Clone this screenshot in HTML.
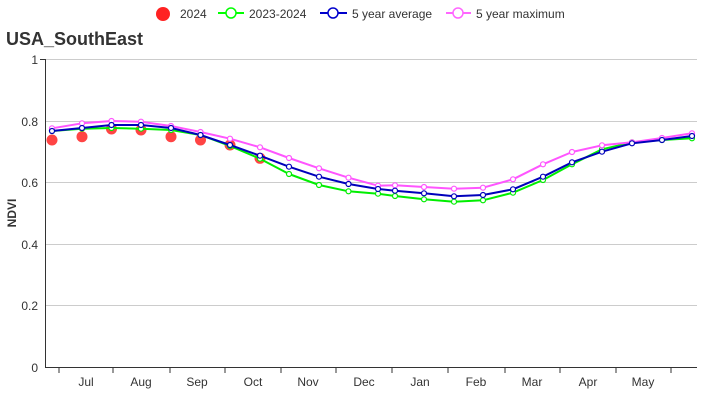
<!DOCTYPE html>
<html><head><meta charset="utf-8"><style>
body{margin:0;background:#fff;}
svg{display:block;font-family:"Liberation Sans",Arial,sans-serif;}
</style></head><body>
<svg width="726" height="400" viewBox="0 0 726 400">
<!-- grid -->
<g stroke="#ccc" stroke-width="1">
<line x1="45" y1="59.5" x2="697" y2="59.5"/>
<line x1="45" y1="121.5" x2="697" y2="121.5"/>
<line x1="45" y1="182.5" x2="697" y2="182.5"/>
<line x1="45" y1="244.5" x2="697" y2="244.5"/>
<line x1="45" y1="305.5" x2="697" y2="305.5"/>
</g>
<g stroke="#333" stroke-width="1">
<line x1="45.5" y1="59" x2="45.5" y2="367"/>
<line x1="40" y1="59.5" x2="45" y2="59.5"/>
<line x1="45" y1="367.5" x2="697" y2="367.5"/>
<line x1="59" y1="367" x2="59" y2="373"/><line x1="113" y1="367" x2="113" y2="373"/>
<line x1="170" y1="367" x2="170" y2="373"/><line x1="225" y1="367" x2="225" y2="373"/>
<line x1="281" y1="367" x2="281" y2="373"/><line x1="336" y1="367" x2="336" y2="373"/>
<line x1="392" y1="367" x2="392" y2="373"/><line x1="448" y1="367" x2="448" y2="373"/>
<line x1="505" y1="367" x2="505" y2="373"/><line x1="560" y1="367" x2="560" y2="373"/>
<line x1="616" y1="367" x2="616" y2="373"/><line x1="671" y1="367" x2="671" y2="373"/>
</g>
<g font-size="12" fill="#333" text-anchor="end">
<text x="38" y="64">1</text><text x="38" y="126">0.8</text><text x="38" y="187">0.6</text>
<text x="38" y="249">0.4</text><text x="38" y="310">0.2</text><text x="38" y="372">0</text>
</g>
<g font-size="12" fill="#333" text-anchor="middle">
<text x="86" y="386">Jul</text><text x="141" y="386">Aug</text><text x="197" y="386">Sep</text>
<text x="253" y="386">Oct</text><text x="308" y="386">Nov</text><text x="364" y="386">Dec</text>
<text x="420" y="386">Jan</text><text x="476" y="386">Feb</text><text x="532" y="386">Mar</text>
<text x="588" y="386">Apr</text><text x="643" y="386">May</text>
</g>
<text transform="translate(16,213) rotate(-90)" font-size="12" font-weight="bold" fill="#333" text-anchor="middle">NDVI</text>
<text x="6" y="45" font-size="18" font-weight="bold" fill="#333">USA_SouthEast</text>
<!-- legend -->
<circle cx="163" cy="14" r="7" fill="#f22"/>
<text x="180" y="18" font-size="12" fill="#333">2024</text>
<line x1="218" y1="13" x2="244" y2="13" stroke="#0f0" stroke-width="2"/><circle cx="231" cy="13" r="5" fill="#fff" stroke="#0f0" stroke-width="1.5"/>
<text x="249" y="18" font-size="12" fill="#333">2023-2024</text>
<line x1="320" y1="13" x2="347" y2="13" stroke="#00c" stroke-width="2"/><circle cx="333" cy="13" r="5" fill="#fff" stroke="#00c" stroke-width="1.5"/>
<text x="352" y="18" font-size="12" fill="#333">5 year average</text>
<line x1="446" y1="13" x2="471" y2="13" stroke="#f6f" stroke-width="2"/><circle cx="458" cy="13" r="5" fill="#fff" stroke="#f6f" stroke-width="1.5"/>
<text x="476" y="18" font-size="12" fill="#333">5 year maximum</text>
<!-- red dots -->
<g fill="#f44">
<circle cx="52" cy="140" r="5.5"/><circle cx="82" cy="136.7" r="5.5"/><circle cx="111.5" cy="129" r="5.5"/>
<circle cx="141" cy="130" r="5.5"/><circle cx="171" cy="136.7" r="5.5"/><circle cx="200.5" cy="140" r="5.5"/>
<circle cx="230" cy="145" r="5.5"/><circle cx="260" cy="158.3" r="5.5"/>
</g>
<!-- series -->
<g fill="none" stroke-width="2" stroke-linejoin="round">
<polyline stroke="#0e0" points="52,131 82,128.7 111.5,128 141,128.7 171,130 200.5,135 230,146 260,158.7 289,174 319,185 348.5,191.3 378,193.7 395,196 424,199.3 454,201.7 483,200.3 513,192.7 543,180 572,164.3 602,149.3 632,142.3 662,140 692,138.3"/>
<polyline stroke="#f5f" points="52,128.3 82,123.3 111.5,121 141,121.7 171,126 200.5,132 230,138.7 260,147.3 289,158 319,168.3 348.5,177.7 378,185.7 395,185.3 424,187 454,188.7 483,187.7 513,179.3 543,164.3 572,152 602,145.3 632,142.3 662,138 692,133.3"/>
<polyline stroke="#00b" points="52,131 82,128 111.5,125 141,125 171,128 200.5,135 230,145 260,155.7 289,166.7 319,176.7 348.5,184 378,189 395,190.7 424,193.3 454,196.3 483,195 513,189.3 543,176.7 572,162.3 602,151.7 632,143.3 662,140 692,136"/>
</g>
<g fill="#fff" stroke-width="1.2">
<g stroke="#0e0">
<circle cx="52" cy="131" r="2.5"/><circle cx="82" cy="128.7" r="2.5"/><circle cx="111.5" cy="128" r="2.5"/><circle cx="141" cy="128.7" r="2.5"/><circle cx="171" cy="130" r="2.5"/><circle cx="200.5" cy="135" r="2.5"/><circle cx="230" cy="146" r="2.5"/><circle cx="260" cy="158.7" r="2.5"/><circle cx="289" cy="174" r="2.5"/><circle cx="319" cy="185" r="2.5"/><circle cx="348.5" cy="191.3" r="2.5"/><circle cx="378" cy="193.7" r="2.5"/><circle cx="395" cy="196" r="2.5"/><circle cx="424" cy="199.3" r="2.5"/><circle cx="454" cy="201.7" r="2.5"/><circle cx="483" cy="200.3" r="2.5"/><circle cx="513" cy="192.7" r="2.5"/><circle cx="543" cy="180" r="2.5"/><circle cx="572" cy="164.3" r="2.5"/><circle cx="602" cy="149.3" r="2.5"/><circle cx="632" cy="142.3" r="2.5"/><circle cx="662" cy="140" r="2.5"/><circle cx="692" cy="138.3" r="2.5"/>
</g>
<g stroke="#f5f">
<circle cx="52" cy="128.3" r="2.5"/><circle cx="82" cy="123.3" r="2.5"/><circle cx="111.5" cy="121" r="2.5"/><circle cx="141" cy="121.7" r="2.5"/><circle cx="171" cy="126" r="2.5"/><circle cx="200.5" cy="132" r="2.5"/><circle cx="230" cy="138.7" r="2.5"/><circle cx="260" cy="147.3" r="2.5"/><circle cx="289" cy="158" r="2.5"/><circle cx="319" cy="168.3" r="2.5"/><circle cx="348.5" cy="177.7" r="2.5"/><circle cx="378" cy="185.7" r="2.5"/><circle cx="395" cy="185.3" r="2.5"/><circle cx="424" cy="187" r="2.5"/><circle cx="454" cy="188.7" r="2.5"/><circle cx="483" cy="187.7" r="2.5"/><circle cx="513" cy="179.3" r="2.5"/><circle cx="543" cy="164.3" r="2.5"/><circle cx="572" cy="152" r="2.5"/><circle cx="602" cy="145.3" r="2.5"/><circle cx="632" cy="142.3" r="2.5"/><circle cx="662" cy="138" r="2.5"/><circle cx="692" cy="133.3" r="2.5"/>
</g>
<g stroke="#00b">
<circle cx="52" cy="131" r="2.5"/><circle cx="82" cy="128" r="2.5"/><circle cx="111.5" cy="125" r="2.5"/><circle cx="141" cy="125" r="2.5"/><circle cx="171" cy="128" r="2.5"/><circle cx="200.5" cy="135" r="2.5"/><circle cx="230" cy="145" r="2.5"/><circle cx="260" cy="155.7" r="2.5"/><circle cx="289" cy="166.7" r="2.5"/><circle cx="319" cy="176.7" r="2.5"/><circle cx="348.5" cy="184" r="2.5"/><circle cx="378" cy="189" r="2.5"/><circle cx="395" cy="190.7" r="2.5"/><circle cx="424" cy="193.3" r="2.5"/><circle cx="454" cy="196.3" r="2.5"/><circle cx="483" cy="195" r="2.5"/><circle cx="513" cy="189.3" r="2.5"/><circle cx="543" cy="176.7" r="2.5"/><circle cx="572" cy="162.3" r="2.5"/><circle cx="602" cy="151.7" r="2.5"/><circle cx="632" cy="143.3" r="2.5"/><circle cx="662" cy="140" r="2.5"/><circle cx="692" cy="136" r="2.5"/>
</g>
</g>
</svg>
</body></html>
